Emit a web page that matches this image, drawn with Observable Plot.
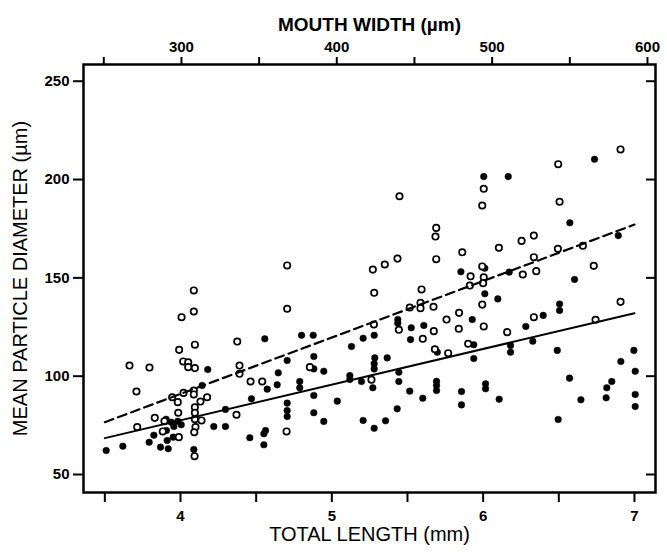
<!DOCTYPE html>
<html>
<head>
<meta charset="utf-8">
<script src="https://cdn.jsdelivr.net/npm/d3@7"></script>
<script src="https://cdn.jsdelivr.net/npm/@observablehq/plot@0.6"></script>
<style>
  html, body { margin: 0; padding: 0; background: white; }
</style>
</head>
<body>
<div id="chart"></div>
<script>
// ---- Data ----
const openLength = [4.705,4.088,4.088,4.007,4.705,4.095,3.991,4.375,3.663,3.795,4.018,4.051,4.051,4.095,4.390,4.390,4.463,4.540,3.709,4.020,4.088,4.088,3.945,3.982,4.132,4.176,4.095,3.985,4.095,4.370,3.830,3.894,4.095,4.139,3.714,4.099,3.883,4.091,4.701,3.989,4.093,
5.447,5.690,5.685,5.994,5.271,5.350,5.434,5.690,5.862,5.917,5.912,5.280,5.593,5.586,5.586,5.515,5.672,5.841,5.994,
5.758,5.278,5.443,5.674,5.839,5.601,5.901,5.681,5.769,4.855,5.262,
6.908,6.496,6.004,6.505,6.335,6.254,6.104,6.494,6.659,6.335,5.994,6.731,6.262,6.351,6.004,6.000,6.908,6.335,6.743,6.004,6.159];
const openDiameter = [156.3,143.6,132.9,130.0,134.3,116.0,113.4,117.6,105.4,104.4,107.5,107.0,104.6,104.1,105.4,101.2,97.3,97.3,92.2,91.5,92.7,90.7,89.3,86.8,87.1,89.3,84.2,81.4,81.4,80.4,78.8,77.1,78.1,77.5,74.1,74.1,71.9,71.5,71.9,69.0,59.3,
191.5,175.4,171.0,186.8,154.2,156.8,159.8,159.5,163.0,150.8,146.1,142.4,144.1,137.3,134.6,134.9,135.3,132.2,136.4,
128.8,126.3,123.6,122.9,124.1,119.0,116.5,113.7,111.7,104.6,98.2,
215.3,207.8,195.3,188.7,171.5,168.8,165.3,164.8,166.3,160.5,155.8,156.1,151.7,153.4,150.3,147.3,137.8,130.0,128.7,125.3,122.4];

const filledLength = [4.557,4.180,4.705,4.646,4.639,4.573,4.143,4.469,4.705,4.297,4.705,4.705,3.905,3.939,3.982,4.005,3.956,4.220,4.297,3.907,4.562,4.551,3.824,3.952,3.793,3.912,4.458,3.868,3.919,4.551,3.509,3.619,4.088,
5.853,5.928,5.436,5.436,5.525,5.608,4.800,4.877,5.207,5.280,5.520,5.130,5.938,5.697,
4.881,5.284,5.366,5.938,4.881,4.947,5.280,5.280,5.119,5.119,5.196,5.443,5.443,4.788,4.788,5.271,5.692,5.692,5.692,5.515,5.857,4.881,5.601,5.036,5.857,4.881,5.432,4.947,5.207,5.355,5.280,
6.736,6.004,6.166,6.573,6.893,6.011,6.172,6.604,6.011,6.097,6.505,6.505,6.397,
6.282,6.181,6.181,6.328,6.490,6.996,6.910,7.005,6.016,6.016,6.571,6.850,6.817,6.106,6.646,6.813,7.005,7.005,6.496];
const filledDiameter = [119.0,103.4,108.0,101.7,95.6,93.4,95.3,88.5,86.3,83.1,82.5,79.5,78.1,76.6,77.1,75.3,74.4,74.4,74.4,72.4,72.4,70.7,70.0,69.0,66.4,67.3,68.7,63.9,63.1,65.1,62.2,64.4,62.7,
153.1,128.8,128.8,126.9,124.6,125.8,120.8,120.8,119.3,120.8,118.6,115.1,116.0,112.2,
110.0,109.3,109.3,109.0,103.7,102.5,106.3,103.7,100.3,98.3,97.3,102.0,97.3,97.3,94.1,94.1,97.4,95.3,92.7,92.4,92.2,90.2,88.8,87.3,85.4,81.4,83.4,77.0,77.5,77.3,73.5,
210.3,201.5,201.5,178.0,171.5,154.9,152.9,149.2,141.9,139.3,136.7,133.4,130.9,
125.3,115.6,112.2,117.8,113.1,113.1,107.5,102.5,96.1,93.6,99.0,97.3,94.1,88.3,88.0,89.0,90.7,84.6,78.0];

// regression lines (end points)
const fitLength = [3.5, 7];
const openFit = [76.6, 177.1];
const filledFit = [68.5, 132.0];

// axes
const lengthTicks = [3.5, 4, 4.5, 5, 5.5, 6, 6.5, 7];
const lengthLabels = ["", "4", "", "5", "", "6", "", "7"];
const mouthTicks = [250, 300, 350, 400, 450, 500, 550, 600];
const mouthLabels = ["", "300", "", "400", "", "500", "", "600"];
const mouthAtLength = [3.493, 7.086]; // total length where 250 and 600 µm fall on the top axis
const diameterTicks = [50, 100, 150, 200, 250];

const xTitle = "TOTAL LENGTH (mm)";
const topTitle = "MOUTH WIDTH (\u00b5m)";
const yTitle = "MEAN PARTICLE DIAMETER (\u00b5m)";

// ---- Tables ----
const openPts = openLength.map((l, i) => ({length: l, diameter: openDiameter[i]}));
const filledPts = filledLength.map((l, i) => ({length: l, diameter: filledDiameter[i]}));
const openLine = fitLength.map((l, i) => ({length: l, diameter: openFit[i]}));
const filledLine = fitLength.map((l, i) => ({length: l, diameter: filledFit[i]}));

const mouthToLength = d3.scaleLinear([mouthTicks[0], mouthTicks[mouthTicks.length - 1]], mouthAtLength);
const mouthTickPos = mouthTicks.map(mouthToLength);

const font = "Liberation Sans, Arial, Helvetica, sans-serif";

const chart = Plot.plot({
  width: 667,
  height: 553,
  marginLeft: 83,
  marginRight: 12,
  marginTop: 64,
  marginBottom: 61,
  style: {background: "white", fontFamily: font, color: "black"},
  x: {domain: [3.359, 7.139]},
  y: {domain: [40.85, 258.5]},
  marks: [
    Plot.axisX({anchor: "bottom", ticks: lengthTicks, tickSize: 10, tickPadding: 8, strokeWidth: 2,
      tickFormat: d => lengthLabels[lengthTicks.indexOf(d)], fontSize: 15, fontWeight: "bold", label: null}),
    Plot.axisX({anchor: "top", ticks: mouthTickPos, tickSize: 8, tickPadding: 5, strokeWidth: 2,
      tickFormat: d => mouthLabels[mouthTickPos.indexOf(d)], fontSize: 15, fontWeight: "bold", label: null}),
    Plot.axisY({anchor: "left", ticks: diameterTicks, tickSize: 10, tickPadding: 4, strokeWidth: 2,
      fontSize: 15, fontWeight: "bold", label: null}),
    Plot.axisY({anchor: "right", ticks: diameterTicks, tickSize: 10, dx: -10, strokeWidth: 2,
      tickFormat: () => "", label: null}),
    Plot.frame({stroke: "black", strokeWidth: 2.5}),
    Plot.dot(filledPts, {x: "length", y: "diameter", r: 3.3, fill: "black", stroke: "black", strokeWidth: 0.5}),
    Plot.dot(openPts, {x: "length", y: "diameter", r: 3.2, fill: "white", stroke: "black", strokeWidth: 1.7}),
    Plot.line(openLine, {x: "length", y: "diameter", stroke: "black", strokeWidth: 2.2, strokeDasharray: "9,5"}),
    Plot.line(filledLine, {x: "length", y: "diameter", stroke: "black", strokeWidth: 2}),
    Plot.text([xTitle], {frameAnchor: "bottom", dy: 48, fontSize: 20, fill: "black"}),
    Plot.text([topTitle], {frameAnchor: "top", dy: -47, fontSize: 19, fontWeight: "bold", fill: "black"}),
    Plot.text([yTitle], {frameAnchor: "left", textAnchor: "middle", dx: -63, rotate: -90, fontSize: 20, fill: "black"})
  ]
});
document.getElementById("chart").appendChild(chart);
</script>
</body>
</html>
